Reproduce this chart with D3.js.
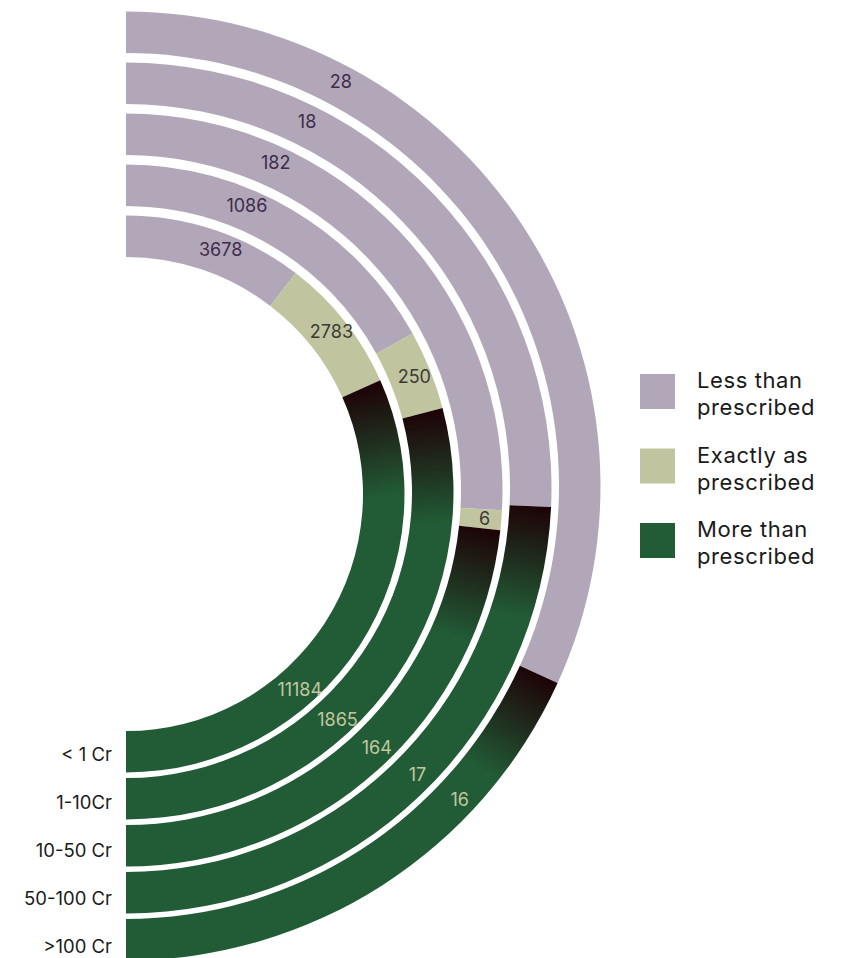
<!DOCTYPE html>
<html>
<head>
<meta charset="utf-8">
<script src="https://cdn.jsdelivr.net/npm/d3@7"></script>
<style>
  html, body { margin: 0; padding: 0; background: #ffffff; }
  svg { display: block; }
  text { font-family: Inter, Lato, "Noto Sans", sans-serif; }
</style>
</head>
<body>
<svg id="chart" width="843" height="958"></svg>
<script>
// ---- data ----
const categories = ["< 1 Cr", "1-10Cr", "10-50 Cr", "50-100 Cr", ">100 Cr"];
const lessThan   = [3678, 1086, 182, 18, 28];
const exactly    = [2783, 250, 6, 0, 0];
const moreThan   = [11184, 1865, 164, 17, 16];
const seriesKeys = ["less", "exact", "more"];
const legendLabels = [["Less than", "prescribed"], ["Exactly as", "prescribed"], ["More than", "prescribed"]];

// ---- styles ----
const colors = { less: "#b2a7b8", exact: "#c0c5a0", more: "#225c36" };
const darkStart = "#1d0407";
const labelColors = { less: "#3d2c4c", exact: "#3b3b36", more: "#c3c7a0" };

const table = categories.map((c, i) => ({ cat: c, less: lessThan[i], exact: exactly[i], more: moreThan[i] }));
const stacked = d3.stack().keys(seriesKeys).offset(d3.stackOffsetExpand)(table);

const svg = d3.select("#chart");
const cx = 126;
const cyOf = i => 494 - 2 * i;

const angle = d3.scaleLinear().domain([0, 1]).range([0, Math.PI]);
const radius = d3.scaleBand().domain(categories).range([237, 474.5]).paddingInner(0.153).paddingOuter(0);

const defs = svg.append("defs");
const arc = d3.arc();

// point relative to ring centre
const rel = (a, r) => [r * Math.sin(a), -r * Math.cos(a)];

// arcs
stacked.forEach(series => {
  const key = series.key;
  series.forEach((d, i) => {
    const a0 = angle(d[0]), a1 = angle(d[1]);
    if (a1 - a0 <= 0) return;
    const r0 = radius(categories[i]), r1 = r0 + radius.bandwidth();
    let fill = colors[key];
    if (key === "more") {
      const rm = (r0 + r1) / 2;
      const p0 = rel(a0, rm);
      const p1 = rel(a0 + 112 / rm, rm);
      const g = defs.append("linearGradient")
        .attr("id", "moreGrad" + i)
        .attr("gradientUnits", "userSpaceOnUse")
        .attr("x1", p0[0]).attr("y1", p0[1])
        .attr("x2", p1[0]).attr("y2", p1[1]);
      g.append("stop").attr("offset", 0).attr("stop-color", darkStart);
      g.append("stop").attr("offset", 0.45).attr("stop-color", "#1f2a1c");
      g.append("stop").attr("offset", 1).attr("stop-color", colors.more);
      fill = "url(#moreGrad" + i + ")";
    }
    svg.append("path")
      .attr("transform", `translate(${cx},${cyOf(i)})`)
      .attr("d", arc({ innerRadius: r0, outerRadius: r1, startAngle: a0, endAngle: a1 }))
      .attr("fill", fill);
  });
});

// value labels
const deg = Math.PI / 180;
stacked.forEach(series => {
  const key = series.key;
  series.forEach((d, i) => {
    const v = series[i].data[key];
    if (!v) return;
    const r0 = radius(categories[i]);
    const rm = r0 + radius.bandwidth() / 2 + 4;
    let a;
    if (key === "less") a = (21.2 + 1.7 * i) * deg;
    else if (key === "more") a = (138.4 - 1.3 * i) * deg;
    else a = (angle(d[0]) + angle(d[1])) / 2;
    const p = rel(a, rm);
    svg.append("text")
      .attr("x", cx + p[0]).attr("y", cyOf(i) + p[1])
      .attr("text-anchor", "middle")
      .attr("dominant-baseline", "central")
      .attr("font-size", 18)
      .attr("fill", labelColors[key])
      .text(v);
  });
});

// category labels
categories.forEach((c, i) => {
  const rm = radius(c) + radius.bandwidth() / 2;
  svg.append("text")
    .attr("x", 112)
    .attr("y", cyOf(i) + rm + 2 + i)
    .attr("text-anchor", "end")
    .attr("dominant-baseline", "central")
    .attr("font-size", 18.5)
    .attr("fill", "#1a1a1a")
    .text(c);
});

// legend
const legend = svg.append("g").attr("transform", "translate(640,374)");
seriesKeys.forEach((k, j) => {
  const g = legend.append("g").attr("transform", `translate(0,${j * 74.5})`);
  g.append("rect").attr("width", 35).attr("height", 35).attr("fill", colors[k]);
  legendLabels[j].forEach((line, li) => {
    g.append("text")
      .attr("x", 57).attr("y", 14 + li * 27)
      .attr("font-size", 22)
      .attr("letter-spacing", 0.6)
      .attr("fill", "#1a1a1a")
      .text(line);
  });
});
</script>
</body>
</html>
